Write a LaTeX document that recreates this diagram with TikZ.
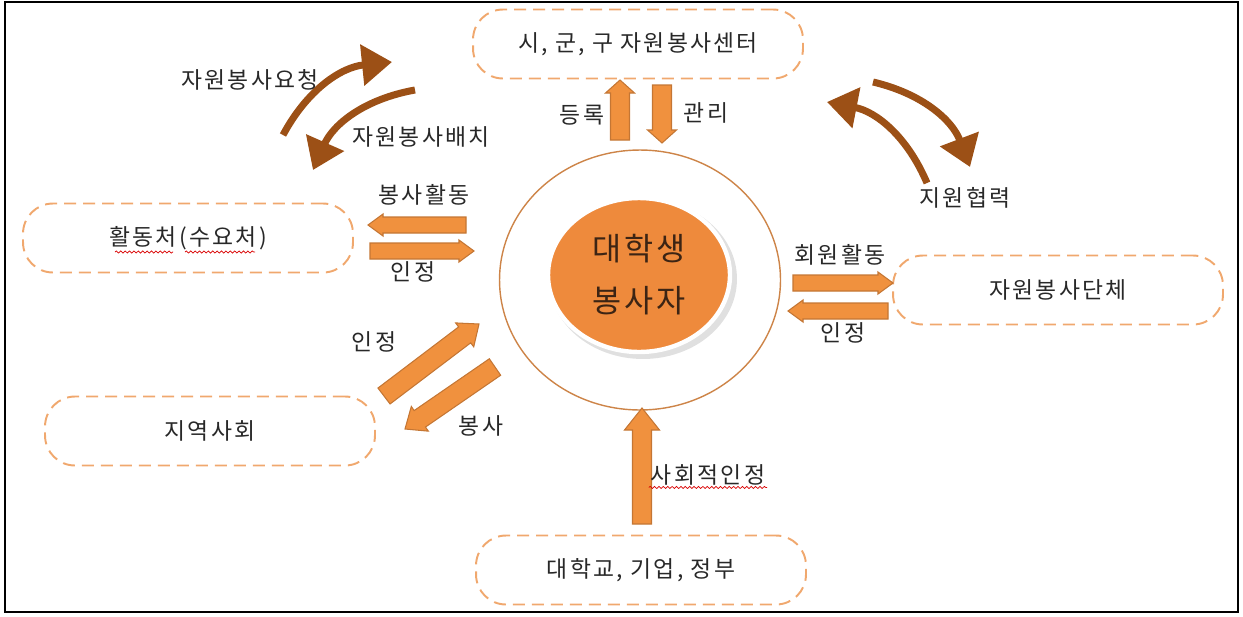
\documentclass[tikz,border=0pt]{standalone}
\usepackage{fontspec}
\setmainfont[LetterSpace=10]{Noto Sans CJK KR}
\usetikzlibrary{calc,arrows.meta,shapes.geometric,decorations.pathmorphing}

\definecolor{boxline}{RGB}{240,168,110}
\definecolor{arrowfill}{RGB}{240,145,62}
\definecolor{arrowedge}{RGB}{196,118,52}
\definecolor{curvebrown}{RGB}{156,80,22}
\definecolor{ringline}{RGB}{205,132,72}
\definecolor{hubfill}{RGB}{238,138,60}
\definecolor{hubtext}{RGB}{60,36,20}
\definecolor{labeltext}{RGB}{40,40,40}

\newcommand{\lblfont}{\fontsize{13pt}{15pt}\selectfont}
\newcommand{\hubfont}{\fontsize{18pt}{29.6pt}\selectfont}

% tail, tip, half shaft, half head, head length
\newcommand{\fatarrow}[5]{%
  \coordinate (fa-neck) at ($(#2)!#5!(#1)$);
  \filldraw[blockarrow]
    ($(#1)!#3!90:(#2)$) -- ($(fa-neck)!#3!-90:(#1)$) -- ($(fa-neck)!#4!-90:(#1)$)
    -- (#2) -- ($(fa-neck)!#4!90:(#1)$) -- ($(fa-neck)!#3!90:(#1)$)
    -- ($(#1)!#3!-90:(#2)$) -- cycle;
}

\begin{document}
\begin{tikzpicture}[x=0.02cm, y=-0.02cm,
  dashedbox/.style={draw=boxline, line width=1.1pt, dash pattern=on 0.24cm off 0.14cm,
    rounded corners=0.6cm, minimum width=6.6cm, minimum height=1.38cm,
    font=\lblfont, text=labeltext},
  lbl/.style={font=\lblfont, text=labeltext, inner sep=1pt},
  blockarrow/.style={fill=arrowfill, draw=arrowedge, line width=0.6pt},
  curvearrow/.style={draw=curvebrown, line width=4pt, -{Triangle[length=0.6cm, width=0.8cm]}},
  spellwave/.style={draw=red!85!black, line width=0.4pt, decorate,
    decoration={snake, amplitude=0.6pt, segment length=2.5pt}}]

\useasboundingbox (0,0) rectangle (1243,616);
\draw[line width=1.1pt] (5,2) rectangle (1238,612);

% centre
\fill[black!12] (643,279) ellipse [x radius=1.88cm, y radius=1.6cm];
\node[ellipse, draw=ringline, line width=0.8pt, minimum width=5.62cm, minimum height=5.2cm] (ring) at (640,280) {};
\node[ellipse, fill=hubfill, draw=white, line width=2.5pt, minimum width=3.64cm, minimum height=3.08cm,
  align=center, font=\hubfont, text=hubtext] (hub) at (639,275) {대학생\\봉사자};

% partners
\node[dashedbox] (vcenter) at (638,44) {시, 군, 구 자원봉사센터};
\node[dashedbox] (demand) at (188,238) {활동처(수요처)};
\node[dashedbox] (club) at (1058,290) {자원봉사단체};
\node[dashedbox] (community) at (210,431) {지역사회};
\node[dashedbox] (univ) at (641,570) {대학교, 기업, 정부};

\coordinate (reg-a) at (620,140);  \coordinate (reg-b) at (620,80);
\coordinate (man-a) at (662,85);   \coordinate (man-b) at (662,143);
\coordinate (act-a) at (466,225);  \coordinate (act-b) at (368,225);
\coordinate (recl-a) at (370,251); \coordinate (recl-b) at (474,251);
\coordinate (mem-a) at (793,283);  \coordinate (mem-b) at (893,283);
\coordinate (recr-a) at (888,311); \coordinate (recr-b) at (788,311);
\coordinate (recd-a) at (384,396); \coordinate (recd-b) at (479,324);
\coordinate (serv-a) at (495,367); \coordinate (serv-b) at (405,429);
\coordinate (soc-a) at (642,524);  \coordinate (soc-b) at (642,408);

\fatarrow{reg-a}{reg-b}{0.19cm}{0.29cm}{0.26cm}
\fatarrow{man-a}{man-b}{0.19cm}{0.29cm}{0.26cm}
\fatarrow{act-a}{act-b}{0.16cm}{0.22cm}{0.3cm}
\fatarrow{recl-a}{recl-b}{0.16cm}{0.22cm}{0.3cm}
\fatarrow{mem-a}{mem-b}{0.16cm}{0.22cm}{0.3cm}
\fatarrow{recr-a}{recr-b}{0.16cm}{0.22cm}{0.3cm}
\fatarrow{recd-a}{recd-b}{0.2cm}{0.3cm}{0.36cm}
\fatarrow{serv-a}{serv-b}{0.2cm}{0.3cm}{0.36cm}
\fatarrow{soc-a}{soc-b}{0.19cm}{0.35cm}{0.44cm}

\coordinate (req-a) at (283,135);  \coordinate (req-b) at (392,62);
\coordinate (dep-a) at (415,90);   \coordinate (dep-b) at (313,170);
\coordinate (sup-a) at (927,183);  \coordinate (sup-b) at (827,102);
\coordinate (sup2-a) at (873,82);  \coordinate (sup2-b) at (970,167);

\draw[curvearrow] (req-a) to[bend left=28] (req-b);
\draw[curvearrow] (dep-a) to[bend right=28] (dep-b);
\draw[curvearrow] (sup-a) to[bend right=28] (sup-b);
\draw[curvearrow] (sup2-a) to[bend left=28] (sup2-b);

\node[lbl] (l-req) at (250,80) {자원봉사요청};
\node[lbl] (l-dep) at (421,137) {자원봉사배치};
\node[lbl] (l-sup) at (965,198) {지원협력};
\node[lbl] (l-reg) at (582,115) {등록};
\node[lbl] (l-man) at (706,113) {관리};
\node[lbl] (l-act) at (424,195) {봉사활동};
\node[lbl] (l-recl) at (413,272) {인정};
\node[lbl] (l-mem) at (840,255) {회원활동};
\node[lbl] (l-recr) at (843,333) {인정};
\node[lbl] (l-recd) at (374,342) {인정};
\node[lbl] (l-serv) at (481,426) {봉사};
\node[lbl] (l-soc) at (708,475) {사회적인정};

\draw[spellwave] ($(demand.center)+(-73,14)$) -- ($(demand.center)+(-15,14)$);
\draw[spellwave] ($(demand.center)+(-3,14)$) -- ($(demand.center)+(67,14)$);
\draw[spellwave] (l-soc.south west) -- (l-soc.south east);

\end{tikzpicture}
\end{document}
